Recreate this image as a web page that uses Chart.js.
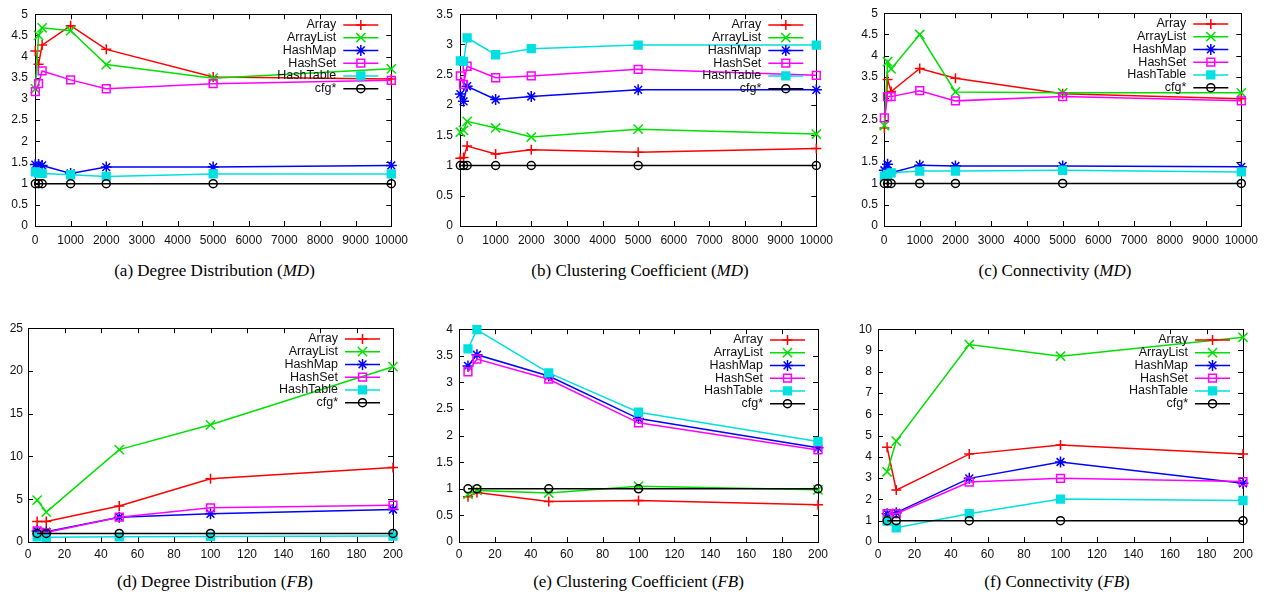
<!DOCTYPE html>
<html><head><meta charset="utf-8">
<script src="https://cdn.jsdelivr.net/npm/chart.js@4.4.1/dist/chart.umd.min.js"></script>
<style>
body{margin:0;background:#fff;width:1273px;height:603px;position:relative;overflow:hidden}
canvas{position:absolute}
.cap{position:absolute;width:320px;font-family:"Liberation Serif","Times New Roman",serif;font-size:17px;color:#000;white-space:nowrap;text-align:center;line-height:20px}
</style></head><body>
<script>
// ---------------- DATA ----------------
const seriesNames = ['Array','ArrayList','HashMap','HashSet','HashTable','cfg*'];
const mdSizes = [10,100,200,1000,2000,5000,10000];
const fbSizes = [5,10,50,100,200];
const mdXTicks = [0,1000,2000,3000,4000,5000,6000,7000,8000,9000,10000];
const fbXTicks = [0,20,40,60,80,100,120,140,160,180,200];
const yTicks0to5 = [0,0.5,1,1.5,2,2.5,3,3.5,4,4.5,5];
const yTicks0to35 = [0,0.5,1,1.5,2,2.5,3,3.5];
const yTicks0to25 = [0,5,10,15,20,25];
const yTicks0to4 = [0,0.5,1,1.5,2,2.5,3,3.5,4];
const yTicks0to10 = [0,1,2,3,4,5,6,7,8,9,10];

// (a) Degree Distribution (MD)
const degMdArray     = [4.13,3.82,4.27,4.73,4.17,3.52,3.47];
const degMdArrayList = [3.24,4.50,4.68,4.61,3.81,3.49,3.71];
const degMdHashMap   = [1.45,1.45,1.43,1.24,1.39,1.39,1.43];
const degMdHashSet   = [3.17,3.36,3.66,3.45,3.24,3.36,3.44];
const degMdHashTable = [1.28,1.25,1.24,1.21,1.17,1.23,1.23];
const degMdCfg       = [1,1,1,1,1,1,1];
// (b) Clustering Coefficient (MD)
const ccMdArray     = [1.12,1.13,1.32,1.19,1.26,1.22,1.28];
const ccMdArrayList = [1.55,1.58,1.73,1.62,1.47,1.60,1.52];
const ccMdHashMap   = [2.18,2.06,2.31,2.09,2.14,2.25,2.25];
const ccMdHashSet   = [2.48,2.34,2.64,2.45,2.48,2.59,2.49];
const ccMdHashTable = [2.73,2.72,3.11,2.83,2.93,2.99,2.99];
const ccMdCfg       = [1,1,1,1,1,1,1];
// (c) Connectivity (MD)
const conMdArray     = [2.30,3.44,3.16,3.70,3.47,3.11,2.99];
const conMdArrayList = [2.36,3.86,3.69,4.50,3.15,3.13,3.13];
const conMdHashMap   = [1.31,1.45,1.25,1.43,1.41,1.41,1.39];
const conMdHashSet   = [2.54,3.04,3.04,3.18,2.94,3.04,2.94];
const conMdHashTable = [1.17,1.21,1.25,1.29,1.29,1.31,1.27];
const conMdCfg       = [1,1,1,1,1,1,1];
// (d) Degree Distribution (FB)
const degFbArray     = [2.4,2.4,4.2,7.4,8.7];
const degFbArrayList = [4.9,3.5,10.8,13.7,20.5];
const degFbHashMap   = [1.3,1.2,2.9,3.3,3.8];
const degFbHashSet   = [1.3,1.1,2.9,4.0,4.3];
const degFbHashTable = [0.6,0.55,0.6,0.65,0.7];
const degFbCfg       = [1,1,1,1,1];
// (e) Clustering Coefficient (FB)
const ccFbArray     = [0.85,0.93,0.76,0.78,0.70];
const ccFbArrayList = [0.90,0.97,0.92,1.05,0.98];
const ccFbHashMap   = [3.31,3.52,3.12,2.32,1.77];
const ccFbHashSet   = [3.20,3.44,3.06,2.24,1.73];
const ccFbHashTable = [3.63,3.99,3.18,2.44,1.89];
const ccFbCfg       = [1,1,1,1,1];
// (f) Connectivity (FB)
const conFbArray     = [4.45,2.44,4.13,4.56,4.13];
const conFbArrayList = [3.30,4.74,9.28,8.73,9.62];
const conFbHashMap   = [1.33,1.38,2.99,3.76,2.76];
const conFbHashSet   = [1.33,1.33,2.82,2.99,2.84];
const conFbHashTable = [0.98,0.67,1.33,2.02,1.95];
const conFbCfg       = [1,1,1,1,1];

// ---------------- STYLE ----------------
const colors = ['#ff0000','#00e000','#0000ff','#ff00ff','#00e0e0','#000000'];
const fills  = ['#ff0000','#00e000','#0000ff','rgba(0,0,0,0)','#00e0e0','rgba(0,0,0,0)'];
const styles = ['cross','crossRot','star','rect','rect','circle'];
const radii  = [5,6.5,5.5,5.5,5.5,4];
const tickFont = {family:'"Liberation Sans", Arial, Helvetica, sans-serif', size:12};

function drawMarker(ctx, style, r, x, y, stroke, fill){
  ctx.save();
  ctx.strokeStyle = stroke; ctx.fillStyle = fill; ctx.lineWidth = 1.5;
  ctx.beginPath();
  if (style==='cross'){ ctx.moveTo(x-r,y); ctx.lineTo(x+r,y); ctx.moveTo(x,y-r); ctx.lineTo(x,y+r); ctx.stroke(); }
  else if (style==='crossRot'){ const d=r*Math.SQRT1_2; ctx.moveTo(x-d,y-d); ctx.lineTo(x+d,y+d); ctx.moveTo(x-d,y+d); ctx.lineTo(x+d,y-d); ctx.stroke(); }
  else if (style==='star'){ const d=r*Math.SQRT1_2; ctx.moveTo(x-r,y); ctx.lineTo(x+r,y); ctx.moveTo(x,y-r); ctx.lineTo(x,y+r); ctx.moveTo(x-d,y-d); ctx.lineTo(x+d,y+d); ctx.moveTo(x-d,y+d); ctx.lineTo(x+d,y-d); ctx.stroke(); }
  else if (style==='rect'){ const s=r*Math.SQRT1_2; ctx.rect(x-s,y-s,2*s,2*s); ctx.fill(); ctx.stroke(); }
  else { ctx.arc(x,y,r,0,Math.PI*2); ctx.fill(); ctx.stroke(); }
  ctx.restore();
}

const framePlugin = {
  id:'frame',
  beforeDatasetsDraw(chart){
    const {ctx, chartArea:a, scales} = chart;
    ctx.save();
    ctx.strokeStyle = '#000'; ctx.lineWidth = 1;
    ctx.strokeRect(Math.round(a.left)+0.5, Math.round(a.top)+0.5, Math.round(a.right-a.left), Math.round(a.bottom-a.top));
    ctx.beginPath();
    const tl = 5;
    scales.y.ticks.forEach(t=>{ const y=Math.round(scales.y.getPixelForValue(t.value))+0.5;
      ctx.moveTo(a.left,y); ctx.lineTo(a.left+tl,y); ctx.moveTo(a.right,y); ctx.lineTo(a.right-tl,y); });
    scales.x.ticks.forEach(t=>{ const x=Math.round(scales.x.getPixelForValue(t.value))+0.5;
      ctx.moveTo(x,a.bottom); ctx.lineTo(x,a.bottom-tl); ctx.moveTo(x,a.top); ctx.lineTo(x,a.top+tl); });
    ctx.stroke();
    ctx.restore();
  },
  afterDatasetsDraw(chart){
    const {ctx, chartArea:a} = chart;
    ctx.save();
    ctx.font = '12.5px "Liberation Sans", Arial, Helvetica, sans-serif';
    ctx.fillStyle = '#111'; ctx.textAlign = 'right'; ctx.textBaseline = 'middle';
    seriesNames.forEach((n,i)=>{
      const y = a.top + 10.7 + i*12.75;
      ctx.fillText(n, a.right-55, y);
      ctx.strokeStyle = colors[i]; ctx.lineWidth = 1.5;
      ctx.beginPath(); ctx.moveTo(a.right-48,y); ctx.lineTo(a.right-13,y); ctx.stroke();
      drawMarker(ctx, styles[i], radii[i], a.right-30.5, y, colors[i], fills[i]);
    });
    ctx.restore();
  }
};

function makePanel(p){
  const c = document.createElement('canvas');
  c.width = p.right + 22 - p.left0; c.height = 250;
  c.style.left = p.left0+'px'; c.style.top = p.top0+'px';
  document.body.appendChild(c);
  const datasets = p.series.map((vals,i)=>({
    label: seriesNames[i],
    data: vals.map((v,j)=>({x:p.xs[j], y:v})),
    borderColor: colors[i], backgroundColor: fills[i],
    pointBorderColor: colors[i], pointBackgroundColor: fills[i],
    pointStyle: styles[i], pointRadius: radii[i], pointHoverRadius: radii[i],
    pointBorderWidth: 1.5, borderWidth: 1.5, tension: 0, fill: false,
    order: 5-i, clip: false
  }));
  new Chart(c, {
    type:'line',
    data:{datasets},
    plugins:[framePlugin],
    options:{
      responsive:false, animation:false, events:[],
      layout:{padding:{top:10, right:22, left:0, bottom:0}},
      plugins:{legend:{display:false}, tooltip:{enabled:false}},
      scales:{
        x:{type:'linear', min:p.xt[0], max:p.xt[p.xt.length-1],
           grid:{display:false, drawTicks:false}, border:{display:false},
           ticks:{font:tickFont, color:'#111', padding:p.xpad, maxRotation:0, autoSkip:false, callback:v=>String(v)},
           afterBuildTicks:s=>{ s.ticks = p.xt.map(v=>({value:v})); },
           afterFit:s=>{ s.height = 24; }},
        y:{type:'linear', min:p.yt[0], max:p.yt[p.yt.length-1],
           grid:{display:false, drawTicks:false}, border:{display:false},
           ticks:{font:tickFont, color:'#111', padding:p.ypad, autoSkip:false, callback:v=>String(v)},
           afterBuildTicks:s=>{ s.ticks = p.yt.map(v=>({value:v})); },
           afterFit:s=>{ s.width = p.left - p.left0; }}
      }
    }
  });
}

makePanel({left0:0,   top0:0, left:35,  right:393,  xs:mdSizes, xt:mdXTicks, yt:yTicks0to5,  xpad:7, ypad:7,
  series:[degMdArray,degMdArrayList,degMdHashMap,degMdHashSet,degMdHashTable,degMdCfg]});
makePanel({left0:420, top0:0, left:460, right:818,  xs:mdSizes, xt:mdXTicks, yt:yTicks0to35, xpad:7, ypad:7,
  series:[ccMdArray,ccMdArrayList,ccMdHashMap,ccMdHashSet,ccMdHashTable,ccMdCfg]});
makePanel({left0:840, top0:0, left:884, right:1243, xs:mdSizes, xt:mdXTicks, yt:yTicks0to5,  xpad:7, ypad:6,
  series:[conMdArray,conMdArrayList,conMdHashMap,conMdHashSet,conMdHashTable,conMdCfg]});
makePanel({left0:0,   top0:316, left:28,  right:393,  xs:fbSizes, xt:fbXTicks, yt:yTicks0to25, xpad:5, ypad:5,
  series:[degFbArray,degFbArrayList,degFbHashMap,degFbHashSet,degFbHashTable,degFbCfg]});
makePanel({left0:420, top0:316, left:459, right:818,  xs:fbSizes, xt:fbXTicks, yt:yTicks0to4,  xpad:5, ypad:6,
  series:[ccFbArray,ccFbArrayList,ccFbHashMap,ccFbHashSet,ccFbHashTable,ccFbCfg]});
makePanel({left0:840, top0:316, left:878, right:1243, xs:fbSizes, xt:fbXTicks, yt:yTicks0to10, xpad:5, ypad:6,
  series:[conFbArray,conFbArrayList,conFbHashMap,conFbHashSet,conFbHashTable,conFbCfg]});

const captions = [
  ['(a) Degree Distribution (<i>MD</i>)', 214.5, 261],
  ['(b) Clustering Coefficient (<i>MD</i>)', 640, 261],
  ['(c) Connectivity (<i>MD</i>)', 1055, 261],
  ['(d) Degree Distribution (<i>FB</i>)', 215, 572],
  ['(e) Clustering Coefficient (<i>FB</i>)', 638.5, 572],
  ['(f) Connectivity (<i>FB</i>)', 1057, 572]
];
captions.forEach(([t,cx,top])=>{
  const d=document.createElement('div'); d.className='cap'; d.innerHTML=t;
  d.style.left=(cx-160)+'px'; d.style.top=top+'px'; document.body.appendChild(d);
});
</script>
</body></html>
